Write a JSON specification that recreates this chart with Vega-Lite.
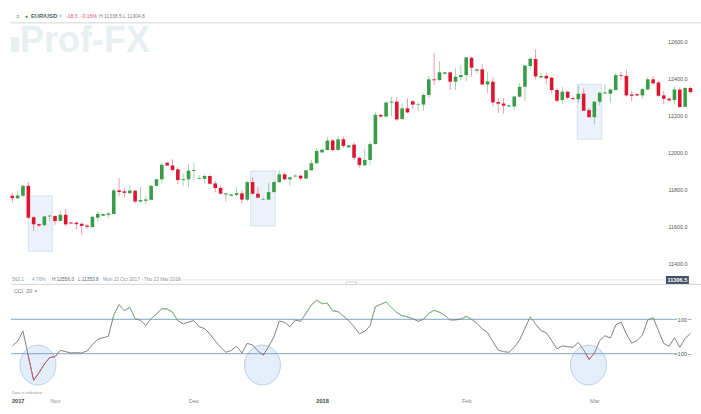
{"$schema":"https://vega.github.io/schema/vega-lite/v6.json","padding":0,"background":"white","spacing":0,"bounds":"flush","config":{"view":{"stroke":null},"font":"Liberation Sans","text":{"font":"Liberation Sans"}},
"datasets":{
"candles":[
{"i":0,"o":11765,"h":11781,"l":11727,"c":11752},{"i":1,"o":11751,"h":11790,"l":11747,"c":11767},{"i":2,"o":11765,"h":11823,"l":11760,"c":11819},{"i":3,"o":11819,"h":11839,"l":11642,"c":11646},{"i":4,"o":11648,"h":11655,"l":11575,"c":11610},{"i":5,"o":11611,"h":11615,"l":11597,"c":11604},{"i":6,"o":11606,"h":11657,"l":11601,"c":11653},{"i":7,"o":11653,"h":11662,"l":11626,"c":11657},{"i":8,"o":11655,"h":11658,"l":11608,"c":11628},{"i":9,"o":11629,"h":11687,"l":11626,"c":11662},
{"i":10,"o":11662,"h":11695,"l":11601,"c":11610},{"i":11,"o":11620,"h":11624,"l":11610,"c":11615},{"i":12,"o":11619,"h":11622,"l":11583,"c":11611},{"i":13,"o":11613,"h":11619,"l":11555,"c":11602},{"i":14,"o":11604,"h":11610,"l":11584,"c":11597},{"i":15,"o":11595,"h":11655,"l":11592,"c":11651},{"i":16,"o":11646,"h":11682,"l":11624,"c":11667},{"i":17,"o":11657,"h":11667,"l":11655,"c":11666},{"i":18,"o":11662,"h":11678,"l":11644,"c":11669},{"i":19,"o":11666,"h":11803,"l":11664,"c":11794},
{"i":20,"o":11794,"h":11861,"l":11763,"c":11785},{"i":21,"o":11789,"h":11805,"l":11758,"c":11781},{"i":22,"o":11779,"h":11821,"l":11778,"c":11794},{"i":23,"o":11792,"h":11796,"l":11722,"c":11734},{"i":24,"o":11734,"h":11810,"l":11727,"c":11742},{"i":25,"o":11738,"h":11763,"l":11718,"c":11745},{"i":26,"o":11743,"h":11823,"l":11740,"c":11819},{"i":27,"o":11819,"h":11857,"l":11816,"c":11854},{"i":28,"o":11854,"h":11944,"l":11837,"c":11933},{"i":29,"o":11944,"h":11948,"l":11926,"c":11929},
{"i":30,"o":11929,"h":11962,"l":11901,"c":11904},{"i":31,"o":11908,"h":11919,"l":11828,"c":11850},{"i":32,"o":11850,"h":11886,"l":11819,"c":11855},{"i":33,"o":11854,"h":11935,"l":11814,"c":11901},{"i":34,"o":11899,"h":11942,"l":11850,"c":11904},{"i":35,"o":11857,"h":11877,"l":11855,"c":11861},{"i":36,"o":11857,"h":11881,"l":11830,"c":11872},{"i":37,"o":11872,"h":11879,"l":11823,"c":11830},{"i":38,"o":11832,"h":11846,"l":11783,"c":11807},{"i":39,"o":11808,"h":11817,"l":11772,"c":11776},
{"i":40,"o":11772,"h":11779,"l":11734,"c":11778},{"i":41,"o":11765,"h":11776,"l":11763,"c":11772},{"i":42,"o":11769,"h":11812,"l":11763,"c":11779},{"i":43,"o":11778,"h":11794,"l":11722,"c":11744},{"i":44,"o":11744,"h":11845,"l":11735,"c":11839},{"i":45,"o":11839,"h":11865,"l":11773,"c":11776},{"i":46,"o":11776,"h":11812,"l":11751,"c":11755},{"i":47,"o":11744,"h":11755,"l":11742,"c":11747},{"i":48,"o":11744,"h":11836,"l":11742,"c":11785},{"i":49,"o":11785,"h":11845,"l":11783,"c":11839},
{"i":50,"o":11839,"h":11903,"l":11834,"c":11881},{"i":51,"o":11881,"h":11890,"l":11850,"c":11854},{"i":52,"o":11854,"h":11868,"l":11820,"c":11865},{"i":53,"o":11870,"h":11881,"l":11865,"c":11874},{"i":54,"o":11874,"h":11879,"l":11850,"c":11859},{"i":55,"o":11858,"h":11906,"l":11856,"c":11903},{"i":56,"o":11903,"h":11959,"l":11899,"c":11941},{"i":57,"o":11941,"h":12024,"l":11939,"c":12008},{"i":58,"o":12000,"h":12017,"l":11998,"c":12015},{"i":59,"o":12013,"h":12082,"l":12011,"c":12064},
{"i":60,"o":12065,"h":12071,"l":12004,"c":12013},{"i":61,"o":12013,"h":12089,"l":12009,"c":12071},{"i":62,"o":12071,"h":12085,"l":12024,"c":12035},{"i":63,"o":12027,"h":12040,"l":12026,"c":12038},{"i":64,"o":12042,"h":12055,"l":11959,"c":11971},{"i":65,"o":11971,"h":11977,"l":11917,"c":11932},{"i":66,"o":11930,"h":12018,"l":11928,"c":11959},{"i":67,"o":11959,"h":12060,"l":11933,"c":12045},{"i":68,"o":12045,"h":12219,"l":12044,"c":12204},{"i":69,"o":12203,"h":12208,"l":12190,"c":12194},
{"i":70,"o":12194,"h":12280,"l":12190,"c":12270},{"i":71,"o":12270,"h":12300,"l":12197,"c":12275},{"i":72,"o":12275,"h":12300,"l":12170,"c":12179},{"i":73,"o":12181,"h":12266,"l":12175,"c":12239},{"i":74,"o":12239,"h":12293,"l":12212,"c":12217},{"i":75,"o":12277,"h":12284,"l":12235,"c":12259},{"i":76,"o":12259,"h":12270,"l":12221,"c":12262},{"i":77,"o":12259,"h":12320,"l":12224,"c":12311},{"i":78,"o":12311,"h":12416,"l":12295,"c":12396},{"i":79,"o":12396,"h":12539,"l":12365,"c":12391},
{"i":80,"o":12392,"h":12495,"l":12388,"c":12434},{"i":81,"o":12426,"h":12438,"l":12423,"c":12434},{"i":82,"o":12434,"h":12438,"l":12338,"c":12383},{"i":83,"o":12383,"h":12455,"l":12338,"c":12410},{"i":84,"o":12408,"h":12474,"l":12392,"c":12419},{"i":85,"o":12419,"h":12519,"l":12387,"c":12515},{"i":86,"o":12513,"h":12519,"l":12410,"c":12459},{"i":87,"o":12443,"h":12455,"l":12428,"c":12450},{"i":88,"o":12450,"h":12477,"l":12365,"c":12368},{"i":89,"o":12368,"h":12437,"l":12320,"c":12385},
{"i":90,"o":12383,"h":12406,"l":12247,"c":12271},{"i":91,"o":12273,"h":12293,"l":12215,"c":12264},{"i":92,"o":12265,"h":12293,"l":12209,"c":12253},{"i":93,"o":12249,"h":12258,"l":12244,"c":12255},{"i":94,"o":12249,"h":12307,"l":12229,"c":12303},{"i":95,"o":12302,"h":12374,"l":12296,"c":12356},{"i":96,"o":12356,"h":12475,"l":12278,"c":12471},{"i":97,"o":12468,"h":12511,"l":12450,"c":12508},{"i":98,"o":12506,"h":12560,"l":12396,"c":12412},{"i":99,"o":12406,"h":12432,"l":12405,"c":12414},
{"i":100,"o":12415,"h":12432,"l":12370,"c":12401},{"i":101,"o":12405,"h":12410,"l":12323,"c":12338},{"i":102,"o":12338,"h":12347,"l":12274,"c":12280},{"i":103,"o":12284,"h":12356,"l":12262,"c":12329},{"i":104,"o":12329,"h":12332,"l":12285,"c":12296},{"i":105,"o":12294,"h":12302,"l":12284,"c":12289},{"i":106,"o":12289,"h":12359,"l":12269,"c":12318},{"i":107,"o":12318,"h":12347,"l":12224,"c":12226},{"i":108,"o":12229,"h":12240,"l":12190,"c":12191},{"i":109,"o":12191,"h":12278,"l":12153,"c":12275},
{"i":110,"o":12275,"h":12329,"l":12256,"c":12323},{"i":111,"o":12320,"h":12370,"l":12316,"c":12325},{"i":112,"o":12318,"h":12347,"l":12269,"c":12341},{"i":113,"o":12338,"h":12432,"l":12334,"c":12419},{"i":114,"o":12419,"h":12437,"l":12392,"c":12415},{"i":115,"o":12415,"h":12450,"l":12302,"c":12309},{"i":116,"o":12314,"h":12332,"l":12278,"c":12307},{"i":117,"o":12316,"h":12320,"l":12305,"c":12309},{"i":118,"o":12309,"h":12347,"l":12293,"c":12343},{"i":119,"o":12341,"h":12410,"l":12338,"c":12396},
{"i":120,"o":12396,"h":12414,"l":12370,"c":12374},{"i":121,"o":12379,"h":12387,"l":12302,"c":12307},{"i":122,"o":12309,"h":12334,"l":12262,"c":12291},{"i":123,"o":12291,"h":12298,"l":12278,"c":12282},{"i":124,"o":12284,"h":12356,"l":12262,"c":12341},{"i":125,"o":12340,"h":12352,"l":12242,"c":12246},{"i":126,"o":12247,"h":12356,"l":12246,"c":12349},{"i":127,"o":12349,"h":12356,"l":12320,"c":12327}],
"cci":[
{"i":0,"p":-55},{"i":1,"p":-28},{"i":2,"p":32},{"i":3,"p":-114},{"i":4,"p":-255},{"i":5,"p":-211},{"i":6,"p":-160},{"i":7,"p":-123},{"i":8,"p":-117},{"i":9,"p":-81},{"i":10,"p":-88},{"i":11,"p":-96},{"i":12,"p":-94},{"i":13,"p":-96},{"i":14,"p":-84},{"i":15,"p":-48},{"i":16,"p":-16},{"i":17,"p":-7},{"i":18,"p":1},{"i":19,"p":125},{"i":20,"p":185},{"i":21,"p":150},{"i":22,"p":170},{"i":23,"p":104},{"i":24,"p":94},{"i":25,"p":65},{"i":26,"p":104},{"i":27,"p":131},{"i":28,"p":162},{"i":29,"p":160},{"i":30,"p":141},{"i":31,"p":92},{"i":32,"p":73},{"i":33,"p":84},{"i":34,"p":92},{"i":35,"p":57},{"i":36,"p":46},{"i":37,"p":15},{"i":38,"p":-26},{"i":39,"p":-63},{"i":40,"p":-92},{"i":41,"p":-81},{"i":42,"p":-57},{"i":43,"p":-96},{"i":44,"p":-40},{"i":45,"p":-49},{"i":46,"p":-84},{"i":47,"p":-108},{"i":48,"p":-59},{"i":49,"p":-1},{"i":50,"p":90},{"i":51,"p":82},{"i":52,"p":57},{"i":53,"p":96},{"i":54,"p":88},{"i":55,"p":135},{"i":56,"p":183},{"i":57,"p":211},{"i":58,"p":191},{"i":59,"p":193},{"i":60,"p":150},{"i":61,"p":145},{"i":62,"p":119},{"i":63,"p":92},{"i":64,"p":57},{"i":65,"p":16},{"i":66,"p":30},{"i":67,"p":63},{"i":68,"p":174},{"i":69,"p":187},{"i":70,"p":201},{"i":71,"p":168},{"i":72,"p":139},{"i":73,"p":121},{"i":74,"p":114},{"i":75,"p":104},{"i":76,"p":88},{"i":77,"p":100},{"i":78,"p":135},{"i":79,"p":152},{"i":80,"p":141},{"i":81,"p":123},{"i":82,"p":96},{"i":83,"p":96},{"i":84,"p":102},{"i":85,"p":117},{"i":86,"p":100},{"i":87,"p":77},{"i":88,"p":44},{"i":89,"p":22},{"i":90,"p":-30},{"i":91,"p":-79},{"i":92,"p":-88},{"i":93,"p":-92},{"i":94,"p":-63},{"i":95,"p":-20},{"i":96,"p":48},{"i":97,"p":114},{"i":98,"p":73},{"i":99,"p":34},{"i":100,"p":22},{"i":101,"p":-24},{"i":102,"p":-71},{"i":103,"p":-55},{"i":104,"p":-59},{"i":105,"p":-63},{"i":106,"p":-34},{"i":107,"p":-79},{"i":108,"p":-133},{"i":109,"p":-98},{"i":110,"p":-24},{"i":111,"p":5},{"i":112,"p":-9},{"i":113,"p":67},{"i":114,"p":84},{"i":115,"p":15},{"i":116,"p":-38},{"i":117,"p":-24},{"i":118,"p":9},{"i":119,"p":96},{"i":120,"p":110},{"i":121,"p":34},{"i":122,"p":-40},{"i":123,"p":-57},{"i":124,"p":-7},{"i":125,"p":-63},{"i":126,"p":-11},{"i":127,"p":18}],
"zones":[
{"seg":"a","zone":"down","i":2.9,"p":-100},{"seg":"a","zone":"down","i":3,"p":-114},{"seg":"a","zone":"down","i":4,"p":-255},{"seg":"a","zone":"down","i":5,"p":-211},{"seg":"a","zone":"down","i":6,"p":-160},{"seg":"a","zone":"down","i":7,"p":-123},{"seg":"a","zone":"down","i":8,"p":-117},{"seg":"a","zone":"down","i":8.47,"p":-100},
{"seg":"b","zone":"up","i":18.8,"p":100},{"seg":"b","zone":"up","i":19,"p":125},{"seg":"b","zone":"up","i":20,"p":185},{"seg":"b","zone":"up","i":21,"p":150},{"seg":"b","zone":"up","i":22,"p":170},{"seg":"b","zone":"up","i":23,"p":104},{"seg":"b","zone":"up","i":23.4,"p":100},
{"seg":"c","zone":"up","i":25.9,"p":100},{"seg":"c","zone":"up","i":26,"p":104},{"seg":"c","zone":"up","i":27,"p":131},{"seg":"c","zone":"up","i":28,"p":162},{"seg":"c","zone":"up","i":29,"p":160},{"seg":"c","zone":"up","i":30,"p":141},{"seg":"c","zone":"up","i":30.84,"p":100},
{"seg":"d","zone":"down","i":46.67,"p":-100},{"seg":"d","zone":"down","i":47,"p":-108},{"seg":"d","zone":"down","i":47.2,"p":-100},
{"seg":"e","zone":"up","i":54.25,"p":100},{"seg":"e","zone":"up","i":55,"p":135},{"seg":"e","zone":"up","i":56,"p":183},{"seg":"e","zone":"up","i":57,"p":211},{"seg":"e","zone":"up","i":58,"p":191},{"seg":"e","zone":"up","i":59,"p":193},{"seg":"e","zone":"up","i":60,"p":150},{"seg":"e","zone":"up","i":61,"p":145},{"seg":"e","zone":"up","i":62,"p":119},{"seg":"e","zone":"up","i":62.7,"p":100},
{"seg":"f","zone":"up","i":67.33,"p":100},{"seg":"f","zone":"up","i":68,"p":174},{"seg":"f","zone":"up","i":69,"p":187},{"seg":"f","zone":"up","i":70,"p":201},{"seg":"f","zone":"up","i":71,"p":168},{"seg":"f","zone":"up","i":72,"p":139},{"seg":"f","zone":"up","i":73,"p":121},{"seg":"f","zone":"up","i":74,"p":114},{"seg":"f","zone":"up","i":75,"p":104},{"seg":"f","zone":"up","i":75.25,"p":100},
{"seg":"g","zone":"up","i":77,"p":100},{"seg":"g","zone":"up","i":78,"p":135},{"seg":"g","zone":"up","i":79,"p":152},{"seg":"g","zone":"up","i":80,"p":141},{"seg":"g","zone":"up","i":81,"p":123},{"seg":"g","zone":"up","i":81.86,"p":100},
{"seg":"h","zone":"up","i":83.9,"p":100},{"seg":"h","zone":"up","i":84,"p":102},{"seg":"h","zone":"up","i":85,"p":117},{"seg":"h","zone":"up","i":86,"p":100},
{"seg":"j","zone":"up","i":96.8,"p":100},{"seg":"j","zone":"up","i":97,"p":114},{"seg":"j","zone":"up","i":97.33,"p":100},
{"seg":"k","zone":"down","i":107.39,"p":-100},{"seg":"k","zone":"down","i":108,"p":-133},{"seg":"k","zone":"down","i":108.94,"p":-100},
{"seg":"m","zone":"up","i":119.15,"p":100},{"seg":"m","zone":"up","i":120,"p":110},{"seg":"m","zone":"up","i":120.25,"p":100}]
},
"vconcat":[
{"width":701,"height":285,
"encoding":{"x":{"field":"i","type":"quantitative","scale":{"domain":[-2.303,128.97],"nice":false,"zero":false,"padding":0},"axis":null},
"y":{"field":"p","type":"quantitative","title":null,"scale":{"domain":[11281.3,12826],"nice":false,"zero":false},"axis":{"orient":"right","offset":-14,"values":[11400,11600,11800,12000,12200,12400,12600],"format":".1f","domain":false,"ticks":false,"grid":false,"labelAlign":"right","labelPadding":0,"labelFontSize":5.4,"labelColor":"#555555","zindex":1}}},
"layer":[
{"data":{"values":[{"i":1.44,"p":12544,"label":"Prof-FX"}]},"mark":{"type":"text","align":"left","baseline":"alphabetic","fontSize":36,"fontWeight":"bold","color":"#e9eff0"},"encoding":{"text":{"field":"label"}}},
{"data":{"values":[{"i":-0.24,"i2":1.3,"p":12625,"p2":12544}]},"mark":{"type":"rect","color":"#e9eff0"},"encoding":{"x2":{"field":"i2"},"y2":{"field":"p2"}}},
{"data":{"values":[{"i":-0.24,"i2":129,"p":12703}]},"mark":{"type":"rule","color":"#e2e2e2","strokeWidth":1.6},"encoding":{"x2":{"field":"i2"}}},
{"data":{"values":[{"i":3,"i2":7.49,"p":11764,"p2":11464},{"i":44.64,"i2":49.25,"p":11899,"p2":11601},{"i":105.8,"i2":110.38,"p":12369,"p2":12071}]},"mark":{"type":"rect","fill":"#ebf2f9","stroke":"#cddcea","strokeWidth":0.8},"encoding":{"x2":{"field":"i2"},"y2":{"field":"p2"}}},
{"data":{"name":"candles"},"mark":{"type":"rule","strokeWidth":1,"opacity":0.45},"encoding":{"y":{"field":"l","type":"quantitative","title":null,"scale":{"domain":[11281.3,12826],"nice":false,"zero":false},"axis":{"orient":"right","offset":-14,"values":[11400,11600,11800,12000,12200,12400,12600],"format":".1f","domain":false,"ticks":false,"grid":false,"labelAlign":"right","labelPadding":0,"labelFontSize":5.4,"labelColor":"#555555","zindex":1}},"y2":{"field":"h"},"color":{"condition":{"test":"datum.c>=datum.o","value":"#3a9c48"},"value":"#e0203e"}}},
{"data":{"name":"candles"},"mark":{"type":"bar","size":3.6},"encoding":{"y":{"field":"o","type":"quantitative","title":null,"scale":{"domain":[11281.3,12826],"nice":false,"zero":false},"axis":{"orient":"right","offset":-14,"values":[11400,11600,11800,12000,12200,12400,12600],"format":".1f","domain":false,"ticks":false,"grid":false,"labelAlign":"right","labelPadding":0,"labelFontSize":5.4,"labelColor":"#555555","zindex":1}},"y2":{"field":"c"},"color":{"condition":{"test":"datum.c>=datum.o","value":"#3a9c48"},"value":"#dc1530"}}},
{"data":{"values":[{"i":31.03,"i2":122.4,"p":11309}]},"mark":{"type":"rule","color":"#dddddd","strokeWidth":0.8},"encoding":{"x2":{"field":"i2"}}},
{"data":{"values":[{"i":-0.24,"i2":129,"p":11285}]},"mark":{"type":"rule","color":"#dcdcdc","strokeWidth":1.2},"encoding":{"x2":{"field":"i2"}}},
{"data":{"values":[{"i":62.5,"i2":64.4,"p":11298,"p2":11283}]},"mark":{"type":"rect","fill":"white","stroke":"#bbbbbb","strokeWidth":0.6},"encoding":{"x2":{"field":"i2"},"y2":{"field":"p2"}}},
{"data":{"values":[{"i":122.4,"i2":126.7,"p":11330,"p2":11287}]},"mark":{"type":"rect","color":"#3f5068"},"encoding":{"x2":{"field":"i2"},"y2":{"field":"p2"}}},
{"data":{"values":[{"i":124.55,"p":11307,"label":"11306.5"}]},"mark":{"type":"text","align":"center","baseline":"middle","fontSize":5.6,"fontWeight":"bold","color":"white"},"encoding":{"text":{"field":"label"}}},
{"data":{"values":[{"i":3.5,"p":12739,"label":"EUR/USD"}]},"mark":{"type":"text","align":"left","baseline":"middle","fontSize":5.8,"fontWeight":"bold","color":"#4a5a5f"},"encoding":{"text":{"field":"label"}}},
{"data":{"values":[{"i":2.6,"p":12739,"label":"●"}]},"mark":{"type":"text","align":"center","baseline":"middle","fontSize":5,"color":"#1f9d4d"},"encoding":{"text":{"field":"label"}}},
{"data":{"values":[{"i":0.8,"p":12739,"label":"≡"},{"i":8.75,"p":12739,"label":"˅"},{"i":16.24,"p":12739,"label":"H 11338.5 L 11304.8"}]},"mark":{"type":"text","align":"left","baseline":"middle","fontSize":5,"color":"#7a7f85"},"encoding":{"text":{"field":"label"}}},
{"data":{"values":[{"i":10.06,"p":12739,"label":"-18.3"},{"i":12.87,"p":12739,"label":"-0.16%"}]},"mark":{"type":"text","align":"left","baseline":"middle","fontSize":5,"color":"#d9536f"},"encoding":{"text":{"field":"label"}}},
{"data":{"values":[{"i":-0.06,"p":11306,"label":"562.1"},{"i":3.69,"p":11306,"label":"4.76%"},{"i":16.99,"p":11306,"label":"Mon 23 Oct 2017 - Thu 22 Mar 2018"}]},"mark":{"type":"text","align":"left","baseline":"middle","fontSize":4.8,"color":"#8c98a4"},"encoding":{"text":{"field":"label"}}},
{"data":{"values":[{"i":7.43,"p":11306,"label":"H 12556.0"},{"i":12.3,"p":11306,"label":"L 11353.8"}]},"mark":{"type":"text","align":"left","baseline":"middle","fontSize":4.8,"color":"#5e6a75"},"encoding":{"text":{"field":"label"}}}
]},
{"width":701,"height":111,
"encoding":{"x":{"field":"i","type":"quantitative","scale":{"domain":[-2.303,128.97],"nice":false,"zero":false},"axis":{"title":null,"orient":"bottom","values":[1,8,33.9,58,85,109],"labelExpr":"datum.value==1?'2017':datum.value==8?'Nov':datum.value==33.9?'Dec':datum.value==58?'2018':datum.value==85?'Feb':'Mar'","domain":false,"ticks":false,"grid":false,"labelPadding":2,"labelFontSize":5.6,"labelColor":{"condition":{"test":"datum.value==1||datum.value==58","value":"#444444"},"value":"#8a8a8a"},"labelFontWeight":{"condition":{"test":"datum.value==1||datum.value==58","value":"bold"},"value":"normal"}}},
"y":{"field":"p","type":"quantitative","title":null,"scale":{"domain":[-345.9,299.4],"nice":false,"zero":false},"axis":{"orient":"right","offset":-14,"values":[100,-100],"domain":false,"grid":false,"tickSize":4,"tickColor":"#9a9a9a","tickWidth":0.8,"labelAlign":"right","labelPadding":-4.6,"labelFontSize":5.6,"labelColor":"#555555","zindex":1}}},
"layer":[
{"data":{"values":[{"i":4.8,"p":-166},{"i":46.85,"p":-166},{"i":107.9,"p":-166}]},"mark":{"type":"point","filled":true,"shape":"M0,-1C0.497,-1 0.9,-0.552 0.9,0C0.9,0.552 0.497,1 0,1C-0.497,1 -0.9,0.552 -0.9,0C-0.9,-0.552 -0.497,-1 0,-1Z","size":1600,"fill":"#e4eef8","stroke":"#adc8e0","strokeWidth":0.8,"opacity":1}},
{"data":{"values":[{"i":-0.24,"i2":124.48,"p":100},{"i":-0.24,"i2":124.48,"p":-100}]},"mark":{"type":"rule","color":"#7fa6c6","strokeWidth":1},"encoding":{"x2":{"field":"i2"}}},
{"data":{"name":"cci"},"mark":{"type":"line","color":"#737373","strokeWidth":0.9}},
{"data":{"name":"zones"},"mark":{"type":"line","strokeWidth":0.9},"encoding":{"detail":{"field":"seg"},"color":{"field":"zone","type":"nominal","legend":null,"scale":{"domain":["up","down"],"range":["#8cc48c","#d4557c"]}}}},
{"data":{"values":[{"i":0.3,"p":264.5,"label":"CCI"},{"i":2.6,"p":264.5,"label":"20"},{"i":4.1,"p":264.5,"label":"×"}]},"mark":{"type":"text","align":"left","baseline":"middle","fontSize":5.4,"color":"#777777"},"encoding":{"text":{"field":"label"}}},
{"data":{"values":[{"i":-0.06,"p":-330,"label":"Data is indicative"}]},"mark":{"type":"text","align":"left","baseline":"middle","fontSize":4,"color":"#999999"},"encoding":{"text":{"field":"label"}}}
]}
]}
